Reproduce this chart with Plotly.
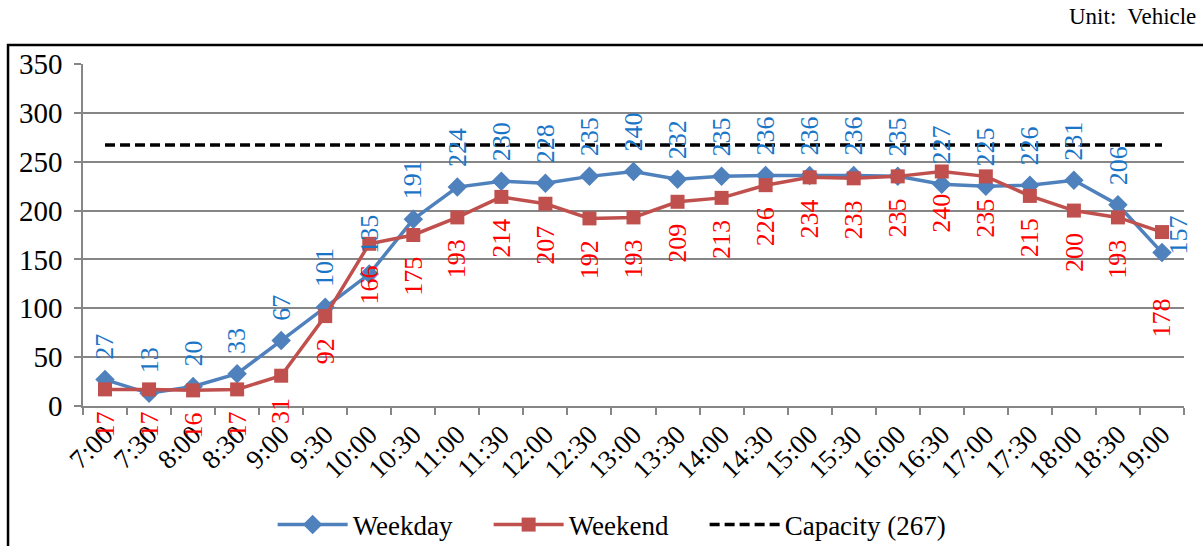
import plotly.graph_objects as go

times = ["7:00", "7:30", "8:00", "8:30", "9:00", "9:30", "10:00", "10:30", "11:00", "11:30",
         "12:00", "12:30", "13:00", "13:30", "14:00", "14:30", "15:00", "15:30", "16:00", "16:30",
         "17:00", "17:30", "18:00", "18:30", "19:00"]
weekday = [27, 13, 20, 33, 67, 101, 135, 191, 224, 230, 228, 235, 240, 232, 235, 236, 236, 236,
           235, 227, 225, 226, 231, 206, 157]
weekend = [17, 17, 16, 17, 31, 92, 166, 175, 193, 214, 207, 192, 193, 209, 213, 226, 234, 233,
           235, 240, 235, 215, 200, 193, 178]
capacity_value = 267
capacity = [capacity_value] * len(times)

FONT = "Liberation Serif"
BLUE = "#4F81BD"
RED = "#C0504D"
BLUE_LBL = "#1A75C7"
RED_LBL = "#FF0000"

fig = go.Figure()
fig.add_trace(go.Scatter(x=times, y=weekday, name="Weekday", mode="lines+markers",
                         line=dict(color=BLUE, width=3.5),
                         marker=dict(symbol="diamond", size=15, color=BLUE)))
fig.add_trace(go.Scatter(x=times, y=weekend, name="Weekend", mode="lines+markers",
                         line=dict(color=RED, width=3.5),
                         marker=dict(symbol="square", size=14, color=RED)))
fig.add_trace(go.Scatter(x=times, y=capacity, name="Capacity (267)", mode="lines",
                         line=dict(color="black", width=3.5, dash="10px,5px"),
                         legendwidth=175))

n = len(times)
ann = []
for i, (t, v) in enumerate(zip(times, weekday)):
    if i == n - 1:
        a = dict(xanchor="left", yanchor="bottom", xshift=0, yshift=-4)
    else:
        a = dict(xanchor="center", yanchor="bottom", xshift=0, yshift=18)
    ann.append(dict(x=t, y=v, text=str(v), showarrow=False, textangle=-90,
                    font=dict(family=FONT, size=26, color=BLUE_LBL), **a))
for i, (t, v) in enumerate(zip(times, weekend)):
    ys = -64 if i == n - 1 else -20
    ann.append(dict(x=t, y=v, text=str(v), showarrow=False, textangle=-90,
                    xanchor="center", yanchor="top", yshift=ys,
                    font=dict(family=FONT, size=26, color=RED_LBL)))
ann.append(dict(xref="paper", yref="paper", x=1.0125, y=1.097, text="Unit:  Vehicle",
                showarrow=False, xanchor="right", yanchor="bottom",
                font=dict(family=FONT, size=23, color="black")))

fig.update_layout(
    width=1203, height=546,
    margin=dict(l=83, r=19, t=64, b=140, autoexpand=False),
    paper_bgcolor="white", plot_bgcolor="white",
    font=dict(family=FONT, color="black"),
    annotations=ann,
    showlegend=True,
    legend=dict(orientation="h", x=0.4865, xanchor="center", y=-0.348, yanchor="middle",
                font=dict(family=FONT, size=27), itemwidth=70, traceorder="normal",
                entrywidth=131, entrywidthmode="pixels"),
    shapes=[dict(type="rect", xref="paper", yref="paper", x0=-0.0681, x1=1.03,
                 y0=-0.5, y1=1.0556, line=dict(color="black", width=2.5),
                 fillcolor="rgba(0,0,0,0)", layer="below")],
)
fig.update_xaxes(type="category", range=[-0.5, 24.5], tickangle=-45, automargin=False,
                 tickfont=dict(family=FONT, size=27), showgrid=False,
                 showline=True, linecolor="#868686", linewidth=2,
                 ticks="outside", tickson="boundaries", ticklen=7, tickcolor="#868686",
                 tickwidth=1.5)
fig.update_yaxes(range=[0, 350], dtick=50, tickfont=dict(family=FONT, size=29), automargin=False,
                 showgrid=True, gridcolor="#868686", gridwidth=1.5,
                 showline=True, linecolor="#868686", linewidth=1.5,
                 ticks="outside", ticklen=7, tickcolor="#868686", tickwidth=1.5,
                 ticklabelstandoff=6, zeroline=False)

fig.write_html("out.html", config={"displayModeBar": False},
               post_script="document.body.style.margin='0';document.body.style.overflow='hidden';")
